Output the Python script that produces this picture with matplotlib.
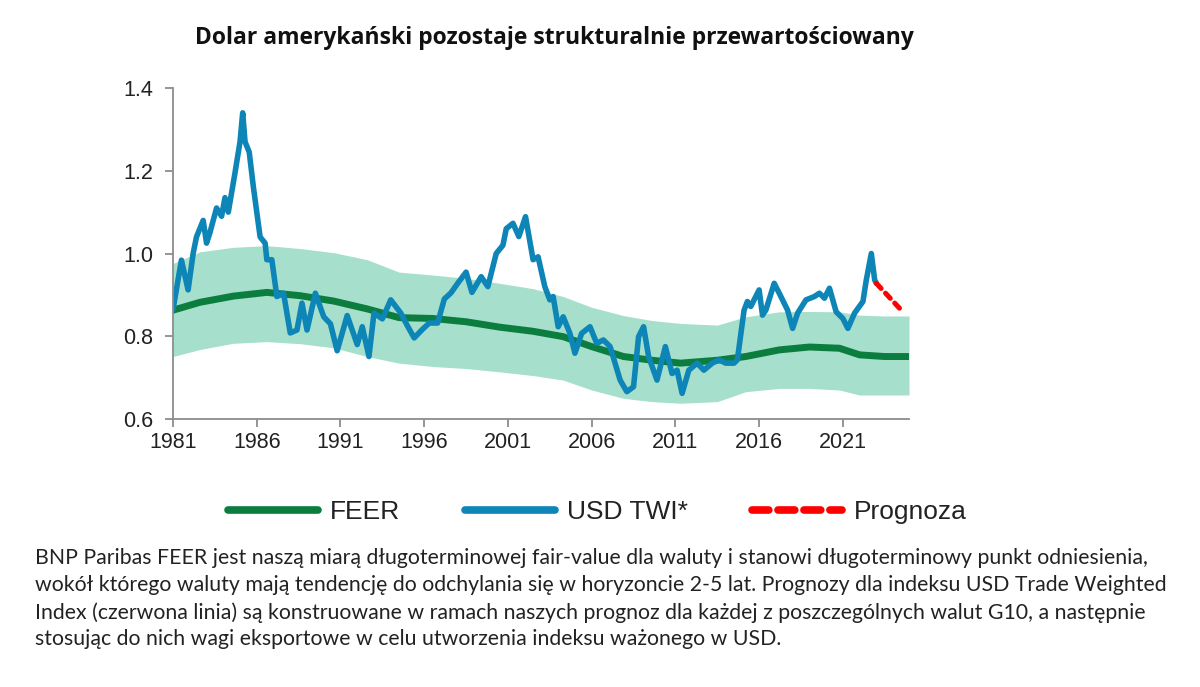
import matplotlib
matplotlib.use("Agg")
import matplotlib.pyplot as plt
from matplotlib.lines import Line2D

# ── Data ─────────────────────────────────────────────────────────────────────
twi_years = [1981.0, 1981.5, 1981.9, 1982.2, 1982.4, 1982.8, 1983.0, 1983.2, 1983.6, 1983.9,
             1984.1, 1984.3, 1984.7, 1985.0, 1985.16, 1985.3, 1985.55, 1985.8, 1986.2, 1986.5,
             1986.6, 1986.9, 1987.2, 1987.6, 1988.0, 1988.4, 1988.7, 1989.0, 1989.5, 1990.0,
             1990.4, 1990.8, 1991.4, 1992.0, 1992.3, 1992.7, 1993.0, 1993.5, 1994.0, 1994.6,
             1995.0, 1995.4, 1995.85, 1996.3, 1996.8, 1997.2, 1997.6, 1998.0, 1998.5, 1998.85,
             1999.4, 1999.8, 2000.3, 2000.7, 2000.9, 2001.3, 2001.65, 2002.05, 2002.5, 2002.8,
             2003.2, 2003.5, 2003.7, 2004.0, 2004.3, 2004.7, 2005.0, 2005.4, 2005.9, 2006.3,
             2006.7, 2007.1, 2007.7, 2008.1, 2008.5, 2008.8, 2009.1, 2009.4, 2009.9, 2010.4,
             2010.8, 2011.1, 2011.4, 2011.8, 2012.3, 2012.7, 2013.2, 2013.6, 2014.0, 2014.5,
             2014.7, 2015.1, 2015.3, 2015.5, 2016.0, 2016.2, 2016.4, 2016.9, 2017.3, 2017.7,
             2018.0, 2018.3, 2018.8, 2019.3, 2019.6, 2019.9, 2020.2, 2020.6, 2021.0, 2021.3,
             2021.7, 2022.2, 2022.4, 2022.7, 2022.9, 2023.0]
twi_vals = [0.865, 0.984, 0.912, 1.000, 1.040, 1.080, 1.025, 1.050, 1.110, 1.090,
            1.135, 1.100, 1.195, 1.270, 1.340, 1.270, 1.245, 1.160, 1.040, 1.025,
            0.985, 0.985, 0.896, 0.904, 0.808, 0.815, 0.880, 0.815, 0.904, 0.847,
            0.830, 0.765, 0.850, 0.780, 0.823, 0.751, 0.856, 0.842, 0.888, 0.856,
            0.825, 0.796, 0.815, 0.832, 0.832, 0.890, 0.905, 0.928, 0.955, 0.906,
            0.944, 0.920, 1.000, 1.020, 1.060, 1.073, 1.041, 1.089, 0.985, 0.992,
            0.920, 0.888, 0.896, 0.823, 0.847, 0.807, 0.759, 0.807, 0.823, 0.783,
            0.791, 0.775, 0.694, 0.666, 0.678, 0.799, 0.823, 0.751, 0.694, 0.775,
            0.710, 0.718, 0.662, 0.718, 0.735, 0.718, 0.735, 0.743, 0.735, 0.735,
            0.743, 0.863, 0.884, 0.872, 0.912, 0.851, 0.863, 0.928, 0.896, 0.863,
            0.819, 0.856, 0.888, 0.896, 0.904, 0.892, 0.916, 0.859, 0.843, 0.819,
            0.856, 0.884, 0.936, 1.000, 0.936, 0.928]

fcst_years = [2023.0, 2024.4]
fcst_vals = [0.928, 0.867]

band_years = [1981.0, 1982.6, 1984.6, 1986.6, 1988.6, 1990.6, 1992.6, 1994.5, 1996.5, 1998.5,
              2000.5, 2002.5, 2004.3, 2006.0, 2007.9, 2009.6, 2011.3, 2013.5, 2015.2, 2017.2,
              2019.0, 2020.8, 2022.0, 2023.5, 2024.95]
feer_vals = [0.863, 0.882, 0.897, 0.906, 0.898, 0.885, 0.866, 0.845, 0.843, 0.835,
             0.822, 0.812, 0.799, 0.775, 0.751, 0.742, 0.735, 0.742, 0.751, 0.767,
             0.774, 0.771, 0.755, 0.751, 0.751]
band_upper = [0.976, 1.004, 1.015, 1.019, 1.012, 1.002, 0.985, 0.955, 0.948, 0.940,
              0.928, 0.915, 0.896, 0.870, 0.850, 0.838, 0.831, 0.827, 0.847, 0.859,
              0.860, 0.859, 0.851, 0.849, 0.849]
band_lower = [0.751, 0.768, 0.783, 0.787, 0.782, 0.772, 0.751, 0.735, 0.727, 0.722,
              0.714, 0.705, 0.694, 0.670, 0.650, 0.642, 0.638, 0.642, 0.666, 0.674,
              0.674, 0.670, 0.658, 0.658, 0.658]

x_ticks = [1981, 1986, 1991, 1996, 2001, 2006, 2011, 2016, 2021]
y_ticks = [0.6, 0.8, 1.0, 1.2, 1.4]

TITLE = "Dolar amerykański pozostaje strukturalnie przewartościowany"
NOTE = ("BNP Paribas FEER jest naszą miarą długoterminowej fair-value dla waluty i stanowi długoterminowy punkt odniesienia,\n"
        "wokół którego waluty mają tendencję do odchylania się w horyzoncie 2-5 lat. Prognozy dla indeksu USD Trade Weighted\n"
        "Index (czerwona linia) są konstruowane w ramach naszych prognoz dla każdej z poszczególnych walut G10, a następnie\n"
        "stosując do nich wagi eksportowe w celu utworzenia indeksu ważonego w USD.")

C_BAND = "#a6dfcc"
C_FEER = "#0b7d3e"
C_TWI = "#0d85b7"
C_FCST = "#ff0000"
C_AXIS = "#8c8c8c"

# ── Figure ───────────────────────────────────────────────────────────────────
fig = plt.figure(figsize=(12, 6.87), dpi=100)
ax = fig.add_axes([0.1442, 0.3901, 0.6133, 0.4818])

ax.fill_between(band_years, band_lower, band_upper, color=C_BAND, lw=0)
ax.plot(band_years, feer_vals, color=C_FEER, lw=5.0, solid_capstyle="round")
ax.plot(twi_years, twi_vals, color=C_TWI, lw=4.0, solid_joinstyle="round",
        solid_capstyle="round")
ax.plot(fcst_years, fcst_vals, color=C_FCST, lw=3.6, ls=(0, (1.4, 1.3)),
        dash_capstyle="round")

ax.set_xlim(1981, 2024.95)
ax.set_ylim(0.6, 1.4)
ax.set_xticks(x_ticks)
ax.set_yticks(y_ticks)
ax.set_yticklabels([f"{v:.1f}" for v in y_ticks])

for s in ("top", "right"):
    ax.spines[s].set_visible(False)
for s in ("left", "bottom"):
    ax.spines[s].set_color(C_AXIS)
    ax.spines[s].set_linewidth(1.3)
ax.tick_params(axis="both", colors=C_AXIS, length=6, width=1.3, direction="out",
               labelcolor="#222222", labelsize=15.5)
for lab in ax.get_xticklabels() + ax.get_yticklabels():
    lab.set_family("Liberation Sans")
ax.tick_params(axis="x", pad=3)
ax.tick_params(axis="y", pad=8)

fig.text(0.462, 0.945, TITLE, ha="center", va="center", fontsize=16.5,
         fontweight="bold", family="Open Sans", color="#111111")

# ── Legend ───────────────────────────────────────────────────────────────────
handles = [
    Line2D([], [], color=C_FEER, lw=5.5, solid_capstyle="round"),
    Line2D([], [], color=C_TWI, lw=5.5, solid_capstyle="round"),
    Line2D([], [], color=C_FCST, lw=5.5, ls=(0, (2.2, 1.2)), dash_capstyle="round"),
]
labels = ["FEER", "USD TWI*", "Prognoza"]
leg = fig.legend(handles, labels, loc="center", bbox_to_anchor=(0.498, 1 - 512 / 687),
                 ncol=3, frameon=False, handlelength=3.4, handletextpad=0.45,
                 columnspacing=2.45, prop={"family": "Liberation Sans", "size": 19})
for t in leg.get_texts():
    t.set_color("#222222")

# ── Footnote ─────────────────────────────────────────────────────────────────
fig.text(0.029, 1 - 548 / 687, NOTE, ha="left", va="top", fontsize=15.3,
         family="Lato", color="#222222", linespacing=1.43)

fig.savefig("out.png", dpi=100, facecolor="white")
